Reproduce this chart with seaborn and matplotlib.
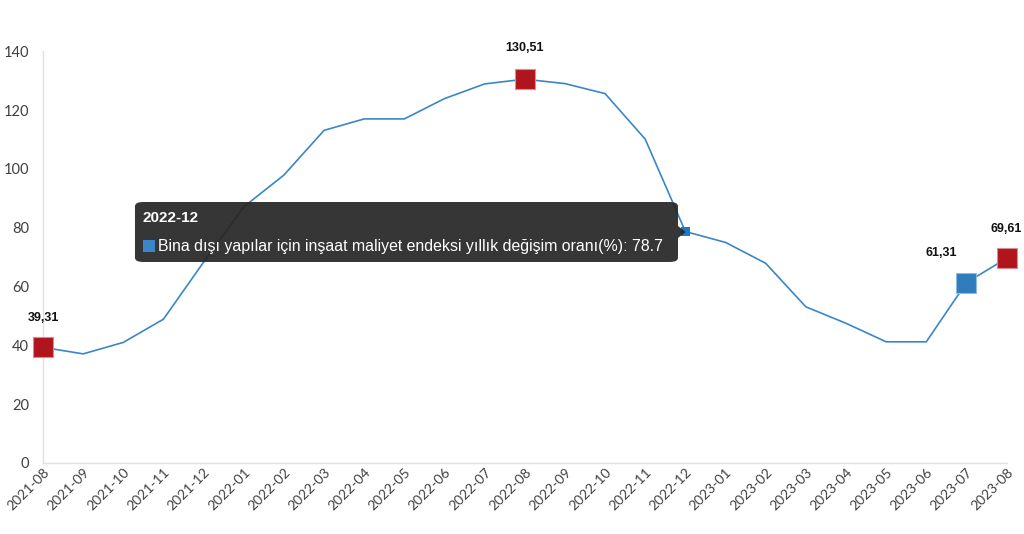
import numpy as np
import pandas as pd
import matplotlib
matplotlib.use("Agg")
import matplotlib.pyplot as plt
from matplotlib.patches import FancyBboxPatch, Polygon, Rectangle
import seaborn as sns

# veri
months = ["2021-08", "2021-09", "2021-10", "2021-11", "2021-12", "2022-01", "2022-02",
          "2022-03", "2022-04", "2022-05", "2022-06", "2022-07", "2022-08", "2022-09",
          "2022-10", "2022-11", "2022-12", "2023-01", "2023-02", "2023-03", "2023-04",
          "2023-05", "2023-06", "2023-07", "2023-08"]
values = [39.31, 37.1, 41.0, 48.9, 68.3, 87.1, 97.9, 113.1, 117.0, 117.0, 123.9, 128.9,
          130.51, 129.0, 125.6, 110.1, 78.7, 75.0, 67.9, 53.1, 47.5, 41.2, 41.2, 61.31, 69.61]
red_points = ["2021-08", "2022-08", "2023-08"]
blue_points = ["2023-07"]
hover_point = "2022-12"
series_name = "Bina dışı yapılar için inşaat maliyet endeksi yıllık değişim oranı(%)"

line_color = "#3a86c8"
red = "#b0151e"
blue = "#2f7dbd"

df = pd.DataFrame({"ay": months, "deger": values})
df["pos"] = np.arange(len(df))

sns.set_style("white")
plt.rcParams["font.family"] = ["Lato", "DejaVu Sans"]

fig = plt.figure(figsize=(10.24, 5.34), dpi=100)
ax = fig.add_axes([0.042, 0.133, 0.941, 0.771])

sns.lineplot(data=df, x="pos", y="deger", color=line_color, linewidth=1.2, ax=ax)

red_df = df[df["ay"].isin(red_points)]
blue_df = df[df["ay"].isin(blue_points)]
hov_df = df[df["ay"] == hover_point]
sns.scatterplot(data=red_df, x="pos", y="deger", marker="s", s=200, color=red,
                edgecolor="#e08a8e", linewidth=0.8, ax=ax, zorder=5, clip_on=False)
sns.scatterplot(data=blue_df, x="pos", y="deger", marker="s", s=190, color=blue,
                edgecolor="#8dbbe0", linewidth=0.8, ax=ax, zorder=5, clip_on=False)
sns.scatterplot(data=hov_df, x="pos", y="deger", marker="s", s=45, color="#1f78c8",
                edgecolor="none", ax=ax, zorder=6)

# değer etiketleri
for _, r in pd.concat([red_df, blue_df]).iterrows():
    dx = -18 if r["ay"] in blue_points else 0
    dy = 17 if r["pos"] != 12 else 18
    ax.annotate(f"{r['deger']:.2f}".replace(".", ","), (r["pos"], r["deger"]),
                xytext=(dx, dy), textcoords="offset points", ha="center", va="bottom",
                fontsize=9, fontweight="bold", family=["Liberation Sans", "DejaVu Sans"],
                color="#111111", zorder=7, annotation_clip=False)

ax.set_xlim(0, len(months) - 1)
ax.set_ylim(0, 140)
ax.set_yticks(range(0, 141, 20))
ax.set_xticks(df["pos"])
ax.set_xticklabels(months, rotation=45, ha="right", rotation_mode="anchor")
ax.tick_params(axis="both", labelsize=10, labelcolor="#404040", length=0)
ax.tick_params(axis="y", pad=10, labelsize=10.5)
ax.tick_params(axis="x", pad=2)
ax.set_xlabel("")
ax.set_ylabel("")
for s in ["top", "right"]:
    ax.spines[s].set_visible(False)
for s in ["left", "bottom"]:
    ax.spines[s].set_color("#e0e0e0")
    ax.spines[s].set_linewidth(1.0)

# tooltip
tip_col = "#262626"
box = FancyBboxPatch((0.1318, 0.5094), 0.5303, 0.1123,
                     boxstyle="round,pad=0,rounding_size=0.008", transform=fig.transFigure,
                     facecolor=tip_col, edgecolor="none", alpha=0.93, zorder=10)
fig.patches.append(box)
arrow = Polygon([[0.6621, 0.5543], [0.6621, 0.5768], [0.6695, 0.5655]], closed=True,
                transform=fig.transFigure, facecolor=tip_col, edgecolor="none",
                alpha=0.93, zorder=10)
fig.patches.append(arrow)
sq = Rectangle((0.1396, 0.5281), 0.0117, 0.0225, transform=fig.transFigure,
               facecolor="#3a86c8", edgecolor="none", zorder=11)
fig.patches.append(sq)
fig.text(0.1396, 0.5918, hover_point, color="white", fontsize=11, fontweight="bold",
         family=["Liberation Sans", "DejaVu Sans"], va="center", ha="left", zorder=11)
fig.text(0.1543, 0.5393, f"{series_name}: {values[months.index(hover_point)]}",
         color="white", fontsize=11.4, family=["Liberation Sans", "DejaVu Sans"],
         va="center", ha="left", zorder=11)

fig.savefig("out.png", dpi=100)
